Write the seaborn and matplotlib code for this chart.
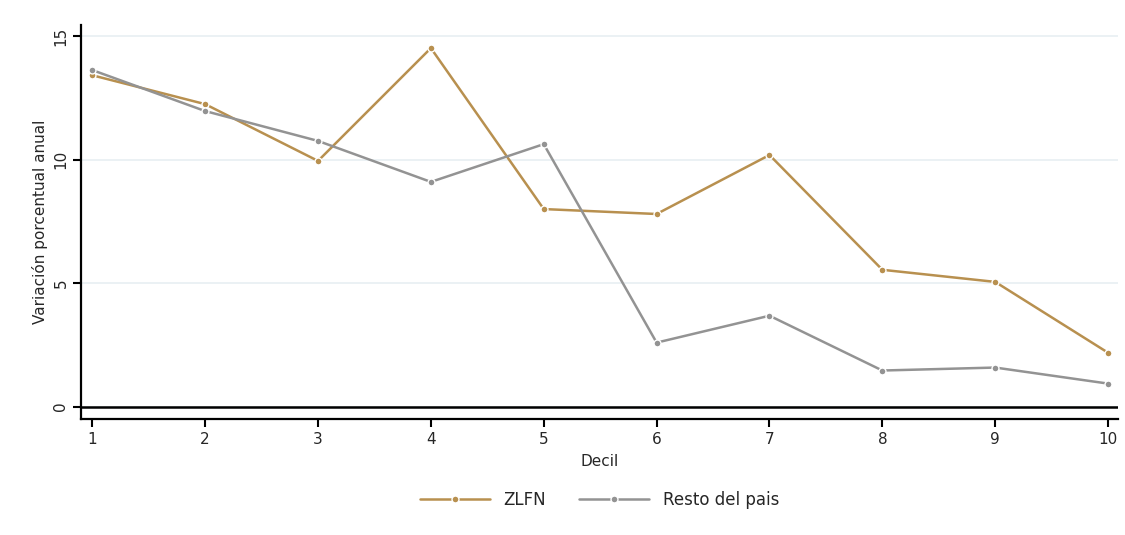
import matplotlib
matplotlib.use("Agg")
import matplotlib.pyplot as plt
import seaborn as sns
import pandas as pd

# values
deciles = [1, 2, 3, 4, 5, 6, 7, 8, 9, 10]
zlfn = [13.42, 12.25, 9.95, 14.52, 8.0, 7.8, 10.19, 5.54, 5.05, 2.18]
resto = [13.63, 11.97, 10.76, 9.1, 10.63, 2.59, 3.68, 1.46, 1.58, 0.93]
series_names = ["ZLFN", "Resto del pais"]
y_ticks = [0, 5, 10, 15]

colors = {"ZLFN": "#b8904f", "Resto del pais": "#939393"}

df = pd.concat([
    pd.DataFrame({"Decil": deciles, "valor": zlfn, "serie": series_names[0]}),
    pd.DataFrame({"Decil": deciles, "valor": resto, "serie": series_names[1]}),
])

sns.set_style("white")
plt.rcParams["font.family"] = ["DejaVu Sans"]

fig = plt.figure(figsize=(11.25, 5.35), dpi=100)
ax = fig.add_axes([0.072, 0.217, 0.922, 0.736])

for name in series_names:
    sub = df[df["serie"] == name]
    sns.lineplot(data=sub, x="Decil", y="valor", ax=ax, color=colors[name],
                 linewidth=1.8, marker="o", markersize=5,
                 markeredgecolor="white", markeredgewidth=1.0, label=name)

ax.set_xlim(0.9, 10.09)
ax.set_ylim(-0.5, 15.45)
ax.set_xticks(deciles)
ax.set_yticks(y_ticks)
ax.set_yticklabels([str(t) for t in y_ticks], rotation=90, va="center")
ax.grid(axis="y", color="#e8eff2", linewidth=1.2)
ax.axhline(0, color="black", linewidth=1.8, zorder=1)

for s in ["top", "right"]:
    ax.spines[s].set_visible(False)
for s in ["left", "bottom"]:
    ax.spines[s].set_color("black")
    ax.spines[s].set_linewidth(1.6)

ax.tick_params(axis="both", which="both", direction="out", length=6,
               width=1.5, color="black", labelsize=11, left=True, bottom=True)
ax.tick_params(axis="y", pad=3)

ax.set_xlabel("Decil", fontsize=11, labelpad=5)
ax.set_ylabel("Variación porcentual anual", fontsize=11, labelpad=4)

ax.legend(loc="center", bbox_to_anchor=(0.5, -0.205), ncol=2,
          frameon=False, fontsize=12, handlelength=4.2, columnspacing=2.0,
          handletextpad=0.8)

fig.savefig("out.png", dpi=100, facecolor="white")
